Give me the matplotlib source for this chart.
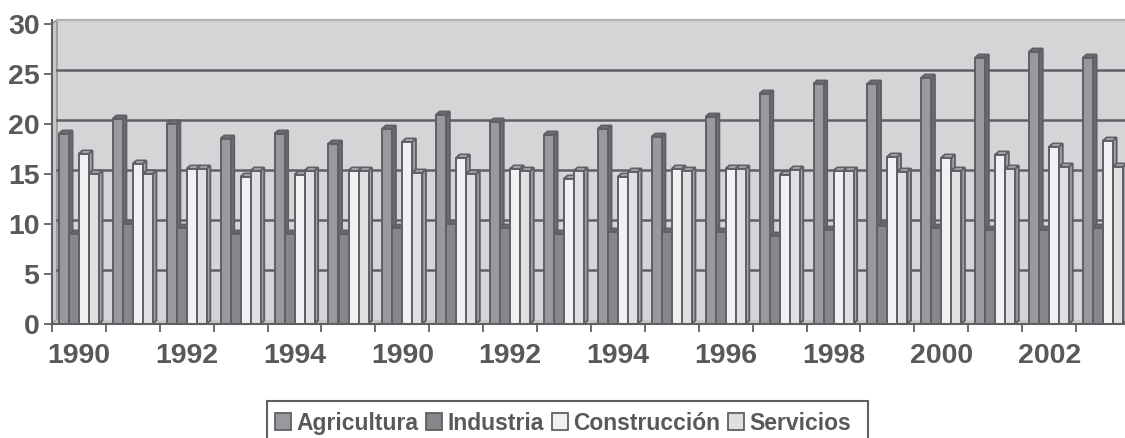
import numpy as np
import matplotlib
matplotlib.use('Agg')
import matplotlib.pyplot as plt
from matplotlib.patches import Polygon, Patch, Rectangle

plt.rcParams['font.family'] = ['Liberation Sans', 'DejaVu Sans']
plt.rcParams['font.weight'] = 'bold'

series_names = ['Agricultura', 'Industria', 'Construcción', 'Servicios']
agricultura = [19, 20.5, 20, 18.5, 19, 18, 19.5, 20.9, 20.2, 18.9, 19.5, 18.7, 20.7, 23, 24, 24, 24.6, 26.6, 27.2, 26.6]
industria = [9, 10, 9.6, 9, 9, 9, 9.6, 10, 9.6, 9, 9.2, 9.2, 9.2, 8.8, 9.4, 9.8, 9.6, 9.4, 9.4, 9.6]
construccion = [17, 16, 15.5, 14.7, 14.9, 15.3, 18.2, 16.6, 15.5, 14.5, 14.7, 15.5, 15.5, 14.9, 15.3, 16.7, 16.6, 16.9, 17.7, 18.3]
servicios = [15, 15, 15.5, 15.3, 15.3, 15.3, 15.1, 15, 15.3, 15.3, 15.2, 15.3, 15.5, 15.4, 15.3, 15.2, 15.3, 15.5, 15.7, 15.7]
year_labels = ['1990', '1992', '1994', '1990', '1992', '1994', '1996', '1998', '2000', '2002']

values = [agricultura, industria, construccion, servicios]
front = ['#98999c', '#86878a', '#f0f1f3', '#dfe0e2']
side = ['#6e6f72', '#6a6b6e', '#a9aaad', '#a5a6a9']
top = ['#77787b', '#6e6f72', '#dcdde0', '#d4d5d7']
edge = '#5f6064'
wall = '#d4d5d7'
text_col = '#58595b'

W, H = 1125, 439
fig = plt.figure(figsize=(W / 100, H / 100), dpi=100, facecolor='white')
ax = fig.add_axes([52 / W, 1 - 324.5 / H, (W - 52) / W, 303.5 / H])

px_cat = 53.9
px_val = 10.0
ax.set_xlim(0, (W - 52) / px_cat)
ax.set_ylim(0, 303.5 / px_val)

# depth of the fake 3d box
dx = 5 / px_cat
dy = 3.5 / px_val
bar_w = 10 / px_cat
bar_dx = 3.5 / px_cat
bar_dy = 3 / px_val
margin = 7 / px_cat
x_end = ax.get_xlim()[1]
y_top = ax.get_ylim()[1]

ax.add_patch(Polygon([(dx, dy), (x_end, dy), (x_end, y_top), (dx, y_top)], fc=wall, ec='none', zorder=1))
ax.add_patch(Polygon([(0, 0), (dx, dy), (dx, y_top), (0, y_top - dy)], fc='#c6c7c9', ec='#8a8b8e', lw=1, zorder=1))
ax.add_patch(Polygon([(0, 0), (x_end, 0), (x_end, dy), (dx, dy)], fc='#c6c7c9', ec='none', zorder=1))
ax.plot([dx, x_end], [y_top, y_top], color='#b4b5b8', lw=1.6, zorder=2, clip_on=False)

for g in range(5, 30, 5):
    ax.plot([dx, x_end], [g + dy, g + dy], color=edge, lw=1.8, zorder=2)

z = 3
for i in range(len(agricultura)):
    for s in range(4):
        v = values[s][i]
        x0 = i + margin + s * bar_w
        x1 = x0 + bar_w
        ax.add_patch(Polygon([(x1, 0), (x1 + bar_dx, bar_dy), (x1 + bar_dx, v + bar_dy), (x1, v)],
                             fc=side[s], ec=edge, lw=1.4, zorder=z))
        ax.add_patch(Polygon([(x0, v), (x1, v), (x1 + bar_dx, v + bar_dy), (x0 + bar_dx, v + bar_dy)],
                             fc=top[s], ec=edge, lw=1.4, zorder=z))
        ax.bar(x0, v, width=bar_w, align='edge', color=front[s], edgecolor=edge, linewidth=1.4, zorder=z + 0.5)
        z += 1

for sp in ['top', 'right']:
    ax.spines[sp].set_visible(False)
for sp in ['left', 'bottom']:
    ax.spines[sp].set_color(edge)
    ax.spines[sp].set_linewidth(1.5)
    ax.spines[sp].set_zorder(500)

ax.set_yticks(range(0, 35, 5))
ax.tick_params(axis='y', length=6, width=1.3, color=edge, labelcolor=text_col, labelsize=20.5, pad=3)
ax.set_xticks(range(0, 20))
ax.set_xticklabels([])
ax.tick_params(axis='x', which='major', length=6, width=1.3, color=edge)
ax.set_xticks(np.arange(0.5, 20, 2), minor=True)
ax.set_xticklabels(year_labels, minor=True)
ax.tick_params(axis='x', which='minor', length=0, labelcolor=text_col, labelsize=20.5, pad=13)

# legend box runs off the bottom of the picture
fig.add_artist(Rectangle((267 / W, -10 / H), 601 / W, (H - 402 + 10) / H, transform=fig.transFigure,
                         fc='white', ec=edge, lw=1.5))
handles = [Patch(fc=front[s], ec=edge, lw=1.3) for s in range(4)]
leg = fig.legend(handles, series_names, ncol=4, loc='center left',
                 bbox_to_anchor=(275 / W, 1 - 424 / H), bbox_transform=fig.transFigure,
                 prop={'size': 16.5, 'weight': 'bold'}, labelcolor=text_col, frameon=False,
                 handlelength=0.7, handleheight=0.7, handletextpad=0.22, columnspacing=0.36,
                 borderpad=0, borderaxespad=0)

fig.savefig('out.png', dpi=100)
